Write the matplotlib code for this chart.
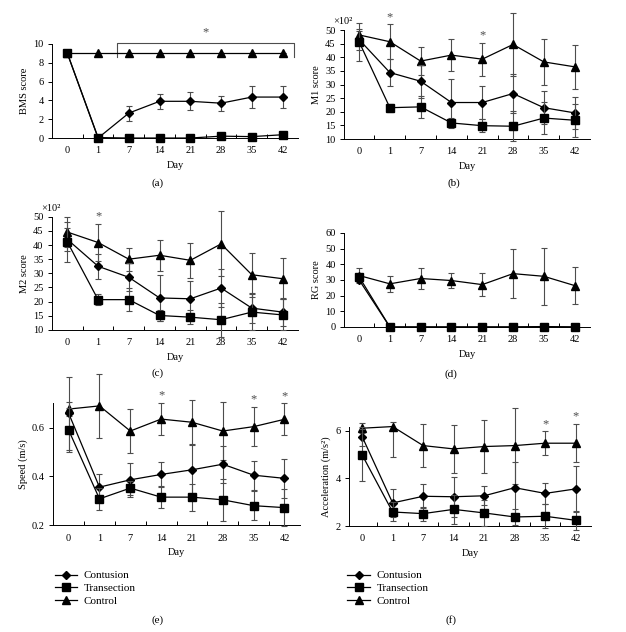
import numpy as np
import matplotlib
matplotlib.use("Agg")
import matplotlib.pyplot as plt
from matplotlib.lines import Line2D

plt.rcParams['font.family'] = ['Liberation Serif', 'DejaVu Serif']
plt.rcParams['font.size'] = 7.5

# data
days = ['0', '1', '7', '14', '21', '28', '35', '42']

bms_cont = [9, 0, 2.65, 3.9, 3.9, 3.7, 4.35, 4.35]
bms_cont_err = [0, 0, 0.8, 0.8, 0.95, 0.8, 1.2, 1.2]
bms_tran = [9, 0.05, 0, 0, 0, 0.2, 0.15, 0.35]
bms_tran_err = [0, 0, 0, 0, 0, 0, 0, 0]
bms_ctrl = [9, 9, 9, 9, 9, 9, 9, 9]
bms_ctrl_err = [0, 0, 0, 0, 0, 0, 0, 0]

m1_cont = [46.5, 34.4, 31.2, 23.4, 23.4, 26.7, 21.5, 19.6]
m1_cont_err = [4, 5, 6, 8.6, 6, 7, 6, 6]
m1_tran = [45.7, 21.5, 21.8, 15.9, 14.9, 14.7, 17.7, 16.9]
m1_tran_err = [7, 1.5, 4, 2, 2.5, 5.5, 6, 6]
m1_ctrl = [48.2, 45.7, 38.6, 40.8, 39.3, 44.7, 38.3, 36.5]
m1_ctrl_err = [1.5, 6.4, 5, 6, 6, 11.7, 8.3, 8]

m2_cont = [42, 32.5, 28.6, 21.3, 21, 24.8, 17.7, 16.3]
m2_cont_err = [4, 4.4, 5, 8, 6.2, 6.7, 5.3, 5]
m2_tran = [41.1, 20.7, 20.7, 15.1, 14.5, 13.6, 16.3, 15.3]
m2_tran_err = [7, 2, 4, 2, 2.5, 6, 6.5, 5.5]
m2_ctrl = [44.6, 40.9, 35.0, 36.4, 34.6, 40.4, 29.5, 28.1]
m2_ctrl_err = [5.4, 6.7, 4, 5.5, 6.3, 11.5, 7.7, 7.3]

rg_cont = [30, 0, 0, 0, 0, 0, 0, 0]
rg_cont_err = [0, 0, 0, 0, 0, 0, 0, 0]
rg_tran = [32, 0, 0, 0, 0, 0, 0.3, 0]
rg_tran_err = [0, 0, 0, 0, 0, 0, 0, 0]
rg_ctrl = [32.8, 27.5, 30.9, 29.6, 27, 34, 32.3, 26.4]
rg_ctrl_err = [5, 5.3, 7, 5, 7.5, 15.5, 18, 12]

spd_cont = [0.659, 0.356, 0.386, 0.408, 0.427, 0.45, 0.405, 0.392]
spd_cont_err = [0.15, 0.055, 0.07, 0.05, 0.1, 0.075, 0.06, 0.08]
spd_tran = [0.59, 0.308, 0.352, 0.315, 0.315, 0.304, 0.28, 0.272]
spd_tran_err = [0.09, 0.045, 0.03, 0.045, 0.055, 0.085, 0.06, 0.075]
spd_ctrl = [0.676, 0.689, 0.586, 0.635, 0.622, 0.586, 0.604, 0.634]
spd_ctrl_err = [0.03, 0.13, 0.09, 0.065, 0.09, 0.12, 0.08, 0.065]

acc_cont = [5.76, 2.97, 3.25, 3.23, 3.27, 3.61, 3.37, 3.56]
acc_cont_err = [0.4, 0.6, 0.5, 0.85, 0.4, 1.1, 0.43, 0.96]
acc_tran = [4.99, 2.59, 2.52, 2.7, 2.55, 2.38, 2.41, 2.24]
acc_tran_err = [1.1, 0.4, 0.3, 0.6, 0.55, 0.35, 0.5, 0.4]
acc_ctrl = [6.11, 6.18, 5.38, 5.24, 5.34, 5.38, 5.48, 5.48]
acc_ctrl_lo = [0.2, 1.3, 0.92, 1.0, 1.1, 1.6, 0.5, 0.8]
acc_ctrl_hi = [0.2, 0.18, 0.92, 1.0, 1.1, 1.6, 0.5, 0.8]

x = np.arange(len(days))

W, H = 626, 632
fig = plt.figure(figsize=(W / 100, H / 100), dpi=100)


def panel(rect, cont, cont_err, tran, tran_err, ctrl, ctrl_err, ylim, yticks,
          ylabel, stars=(), xlim=(-0.5, 7.5), yfmt=None, scale_txt=None):
    ax = fig.add_axes(rect)
    ekw = dict(color='black', lw=0.9, ms=5.5, capsize=2.5, elinewidth=0.8,
               ecolor='0.3', capthick=0.8, clip_on=False)
    e1 = ax.errorbar(x, ctrl, yerr=ctrl_err, marker='^', zorder=3, **ekw)
    e2 = ax.errorbar(x, cont, yerr=cont_err, marker='D', zorder=4,
                     **{**ekw, 'ms': 4.5})
    e3 = ax.errorbar(x, tran, yerr=tran_err, marker='s', zorder=5, **ekw)
    for e in (e1, e2, e3):
        for a in e.lines[1] + e.lines[2]:
            a.set_clip_on(False)
    ax.set_xlim(*xlim)
    ax.set_ylim(*ylim)
    ax.set_xticks(x)
    ax.set_xticklabels(days)
    ax.set_xticks(x[:-1] + 0.5, minor=True)
    ax.tick_params(axis='x', which='major', length=0, pad=6)
    ax.tick_params(axis='x', which='minor', direction='in', length=3, width=0.7)
    ax.set_yticks(yticks)
    if yfmt:
        ax.set_yticklabels([yfmt.format(v) for v in yticks])
    ax.tick_params(axis='y', direction='out', length=3, width=0.7, pad=3)
    for s in ('top', 'right'):
        ax.spines[s].set_visible(False)
    for s in ('left', 'bottom'):
        ax.spines[s].set_linewidth(0.7)
    ax.set_xlabel('Day', labelpad=4)
    ax.set_ylabel(ylabel, labelpad=3)
    if scale_txt:
        ax.text(-0.005, 1.035, scale_txt, transform=ax.transAxes,
                ha='center', va='bottom')
    err = ctrl_err[1] if isinstance(ctrl_err, tuple) else ctrl_err
    hi = np.array(ctrl) + np.array(err)
    for i in stars:
        ax.annotate('*', (x[i], hi[i]), xytext=(0, 1), textcoords='offset points',
                    ha='center', va='bottom', fontsize=9, color='0.3',
                    annotation_clip=False)
    return ax


ax_a = panel([0.083, 0.7816, 0.393, 0.149], bms_cont, bms_cont_err, bms_tran,
             bms_tran_err, bms_ctrl, bms_ctrl_err, (0, 10), [0, 2, 4, 6, 8, 10],
             'BMS score')
# bracket over days 7-42
bx0, bx1 = x[2] - 0.37, x[-1] + 0.37
ax_a.plot([bx0, bx0, bx1, bx1], [8.6, 10.1, 10.1, 8.6], color='0.3', lw=0.8,
          clip_on=False)
ax_a.text((bx0 + bx1) / 2, 10.6, '*', ha='center', va='bottom', fontsize=9,
          color='0.3')

panel([0.5495, 0.780, 0.393, 0.1725], m1_cont, m1_cont_err, m1_tran, m1_tran_err,
      m1_ctrl, m1_ctrl_err, (10, 50), [10, 15, 20, 25, 30, 35, 40, 45, 50],
      'M1 score', stars=(1, 4), scale_txt='×10²', xlim=(-0.49, 7.5))

panel([0.083, 0.478, 0.393, 0.179], m2_cont, m2_cont_err, m2_tran, m2_tran_err,
      m2_ctrl, m2_ctrl_err, (10, 50), [10, 15, 20, 25, 30, 35, 40, 45, 50],
      'M2 score', stars=(1,), scale_txt='×10²')

panel([0.5495, 0.4826, 0.393, 0.149], rg_cont, rg_cont_err, rg_tran, rg_tran_err,
      rg_ctrl, rg_ctrl_err, (0, 60), [0, 10, 20, 30, 40, 50, 60],
      'RG score', xlim=(-0.49, 7.5))

panel([0.085, 0.169, 0.394, 0.193], spd_cont, spd_cont_err, spd_tran, spd_tran_err,
      spd_ctrl, spd_ctrl_err, (0.2, 0.7), [0.2, 0.4, 0.6],
      'Speed (m/s)', stars=(3, 6, 7), yfmt='{:.1f}')

panel([0.5575, 0.1677, 0.3865, 0.157], acc_cont, acc_cont_err, acc_tran,
      acc_tran_err, acc_ctrl, (acc_ctrl_lo, acc_ctrl_hi), (2, 6.17), [2, 4, 6],
      'Acceleration (m/s²)', stars=(6, 7), xlim=(-0.43, 7.5))

# panel tags
tags = ['(a)', '(b)', '(c)', '(d)', '(e)', '(f)']
tag_xy = [(158, 183), (454, 183), (158, 373), (451, 374), (158, 620), (451, 620)]
for t, (px, py) in zip(tags, tag_xy):
    fig.text(px / W, 1 - py / H, t, ha='center', va='center', fontsize=8)

handles = [Line2D([], [], color='black', lw=0.9, marker='D', ms=4.5),
           Line2D([], [], color='black', lw=0.9, marker='s', ms=5.5),
           Line2D([], [], color='black', lw=0.9, marker='^', ms=5.5)]
names = ['Contusion', 'Transection', 'Control']
for bx in (0.080, 0.548):
    fig.legend(handles, names, loc='upper left', bbox_to_anchor=(bx, 0.104),
               frameon=False, handlelength=2.0, handletextpad=0.6,
               labelspacing=0.25, borderaxespad=0, fontsize=8)

fig.savefig('out.png', dpi=100)
